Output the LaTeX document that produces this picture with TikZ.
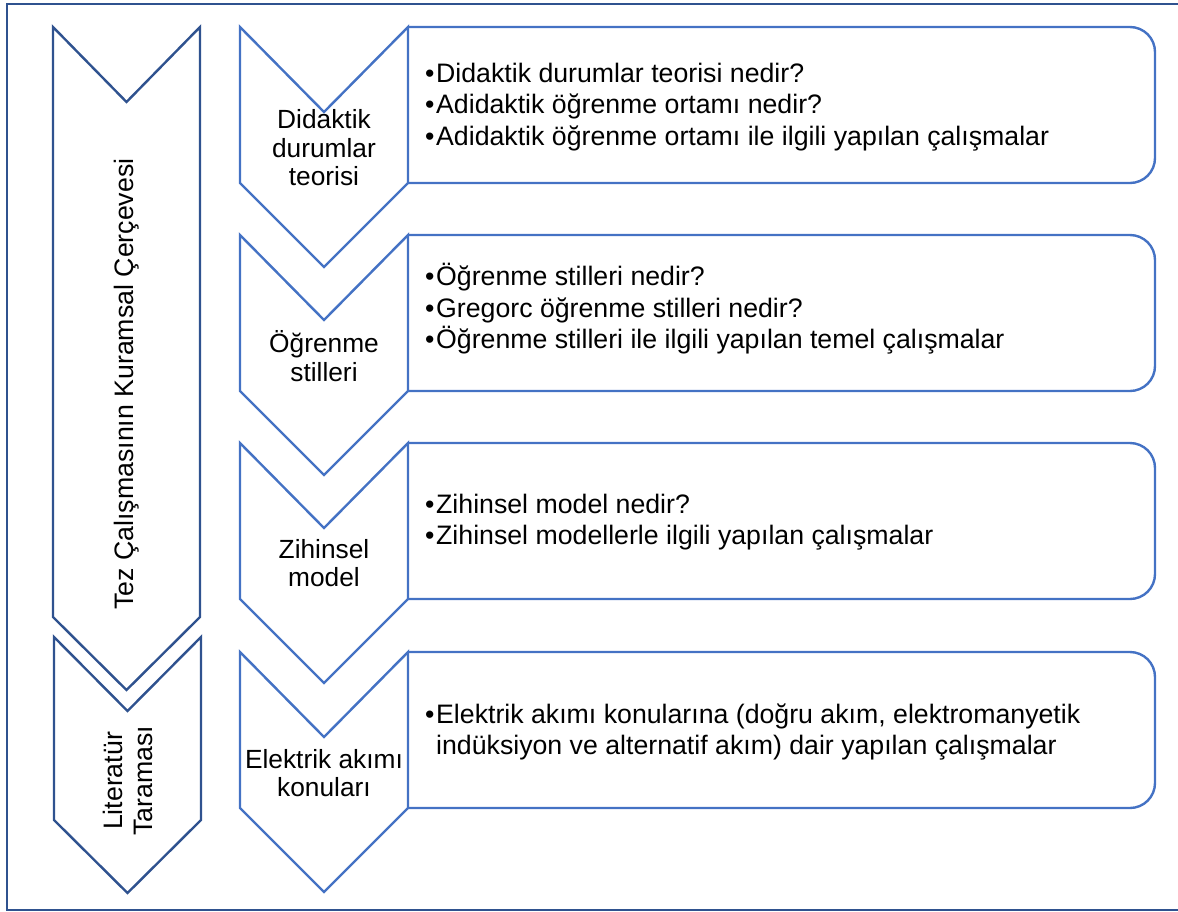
\documentclass[tikz,border=0pt]{standalone}
\usepackage{fontspec}
\setmainfont{Liberation Sans}
\usetikzlibrary{positioning}

\definecolor{koyumavi}{RGB}{47,82,143}
\definecolor{ortamavi}{RGB}{68,114,196}

\newcommand{\mad}{\makebox[11pt][l]{•}}
\newcommand{\bos}{\hspace*{11pt}}

\begin{document}
\begin{tikzpicture}[x=1pt, y=-1pt, line join=miter,
  solok/.style={draw=koyumavi, line width=2.4pt, fill=white},
  ortaok/.style={draw=ortamavi, line width=2.4pt, fill=white},
  kutu/.style={draw=ortamavi, line width=2.4pt, rounded corners=25pt},
  baslik/.style={inner sep=0pt, align=center, font=\fontsize{26.3}{28.5}\selectfont},
  madde/.style={inner sep=0pt, anchor=west, align=left, font=\fontsize{26.7}{31.5}\selectfont}]

  %% ════ dış çerçeve ════
  \draw[koyumavi, line width=2pt] (7,4) rectangle (1190,910);

  %% ════ sol oklar ════
  \draw[solok] (53,27) -- (126.5,102) -- (200,27) -- (200,617) -- (126.5,690) -- (53,617) -- cycle;
  \draw[solok] (54,637) -- (127.5,711) -- (201,637) -- (201,820) -- (127.5,893) -- (54,820) -- cycle;

  %% ════ orta oklar ve sağ kutular ════
  \foreach \t in {27,235,443,652} {
    \draw[kutu] (408,\t) -- (1155,\t) -- (1155,\t+156) -- (408,\t+156);
    \draw[ortaok] (240,\t) -- (324,\t+85) -- (408,\t) -- (408,\t+156) -- (324,\t+240) -- (240,\t+156) -- cycle;
  }

  %% ════ sol yazılar ════
  \node[baslik, rotate=90, font=\fontsize{26.7}{30}\selectfont] (tez) at (127,384) {Tez Çalışmasının Kuramsal Çerçevesi};
  \node[baslik, rotate=90, font=\fontsize{26.7}{30}\selectfont] (lit) at (128,781) {Literatür\\Taraması};

  %% ════ orta yazılar ════
  \node[baslik] (didaktik) at (324,148) {Didaktik\\durumlar\\teorisi};
  \node[baslik] (ogrenme) at (324,356) {Öğrenme\\stilleri};
  \node[baslik] (zihinsel) at (324,563) {Zihinsel\\model};
  \node[baslik] (elektrik) at (324,773) {Elektrik akımı\\konuları};

  %% ════ maddeler ════
  \node[madde] (didmadde) at (425,107) {\mad Didaktik durumlar teorisi nedir?\\
    \mad Adidaktik öğrenme ortamı nedir?\\
    \mad Adidaktik öğrenme ortamı ile ilgili yapılan çalışmalar};
  \node[madde] (ogrmadde) at (425,309) {\mad Öğrenme stilleri nedir?\\
    \mad Gregorc öğrenme stilleri nedir?\\
    \mad Öğrenme stilleri ile ilgili yapılan temel çalışmalar};
  \node[madde] (zihmadde) at (425,522) {\mad Zihinsel model nedir?\\
    \mad Zihinsel modellerle ilgili yapılan çalışmalar};
  \node[madde] (elkmadde) at (425,732) {\mad Elektrik akımı konularına (doğru akım, elektromanyetik\\
    \bos indüksiyon ve alternatif akım) dair yapılan çalışmalar};

  \pgfresetboundingbox
  \path[use as bounding box] (0,0) rectangle (1178,911);
\end{tikzpicture}
\end{document}
